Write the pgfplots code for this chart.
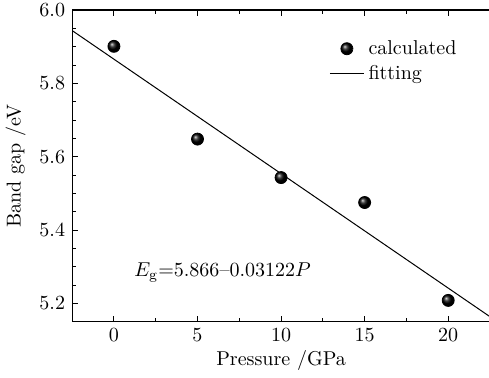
\documentclass[border=0pt]{standalone}
\usepackage{pgfplots}
\pgfplotsset{compat=1.18}
\begin{document}
\begin{tikzpicture}
\path[use as bounding box] (-36pt,-28pt) rectangle (208pt,160.5pt);
\begin{axis}[
  scale only axis, width=208.5pt, height=155.5pt,
  xmin=-2.5, xmax=22.5, ymin=5.15, ymax=6.0,
  xtick={0,5,10,15,20}, ytick={5.2,5.4,5.6,5.8,6.0},
  minor x tick num=1, minor y tick num=3,
  axis y line*=left,
  tick align=inside,
  major tick length=3pt, minor tick length=2pt,
  yticklabel style={/pgf/number format/fixed,/pgf/number format/fixed zerofill,/pgf/number format/precision=1},
  xlabel={Pressure /GPa}, ylabel={Band gap /eV},
  xlabel style={inner sep=0.8pt},
  legend style={draw=none, fill=none, at={(0.6,0.93)}, anchor=north west, font=\normalsize},
  legend cell align=left,
  axis line style={line width=0.6pt},
  every tick/.style={black, line width=0.5pt},
]
\addplot[only marks, mark=ball, mark size=3pt, mark options={ball color=black}] coordinates {(0,5.901)(5,5.648)(10,5.543)(15,5.475)(20,5.208)};
\addlegendentry{calculated}
\addplot[black, line width=0.5pt] coordinates {(-2.5,5.944)(22.5,5.1635)};
\addlegendentry{fitting}
\node at (axis cs:6.5,5.285) {$E_{\mathrm g}$=5.866--0.03122$P$};
\end{axis}
\end{tikzpicture}
\end{document}
